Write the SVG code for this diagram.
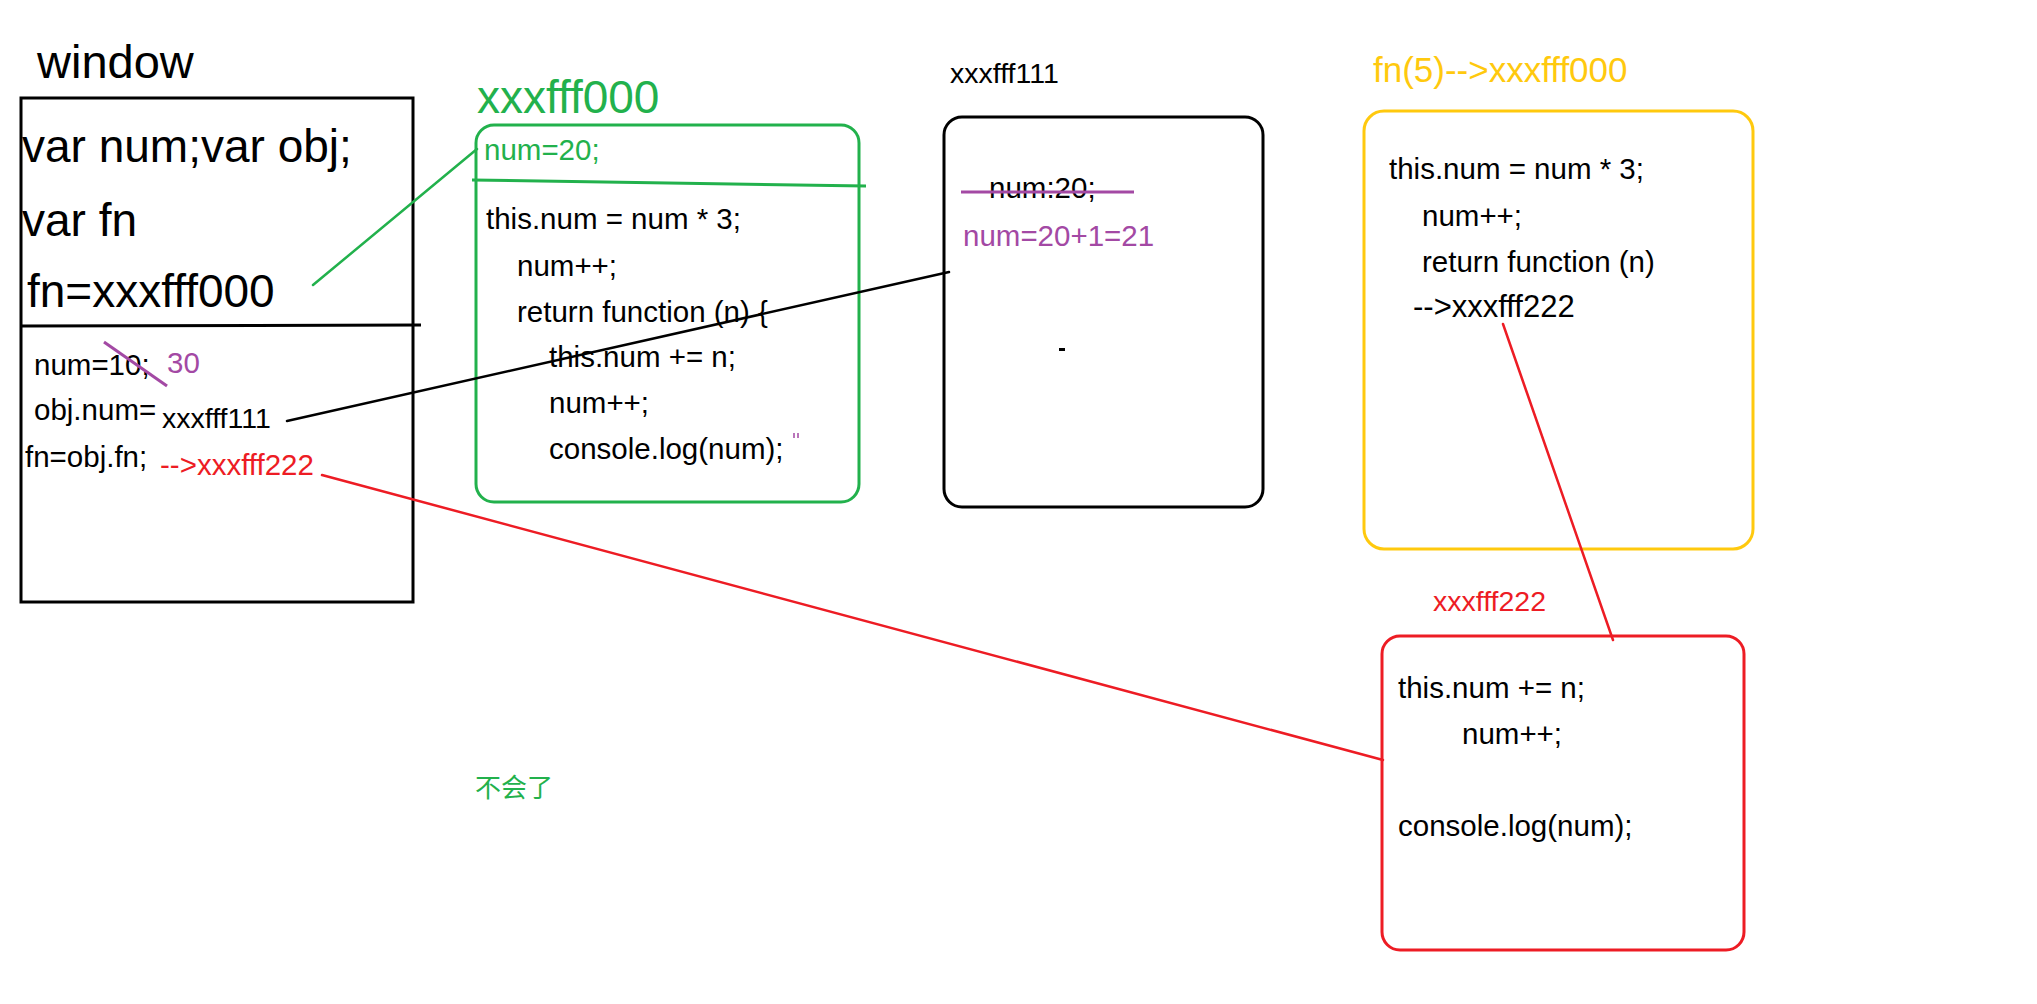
<svg xmlns="http://www.w3.org/2000/svg" width="2037" height="1004" viewBox="0 0 2037 1004">
<style>
  text { font-family: "Liberation Sans", Arial, sans-serif; fill: #000; }
  .big { font-size: 46px; }
  .code { font-size: 29.5px; }
  .addr { font-size: 28.5px; }
  .green { fill: #22b14c; }
  .purple { fill: #a349a4; }
  .red { fill: #ed1c24; }
  .yellow { fill: #ffc90e; }
  .box { fill: none; stroke-width: 3; }
  .conn { fill: none; stroke-width: 2.5; stroke-linecap: round; }
  .strike { stroke: #a349a4; stroke-width: 3; fill: none; }
</style>
<rect width="2037" height="1004" fill="#ffffff"/>

<g id="window">
  <text x="37" y="78" style="font-size:47px">window</text>
  <rect class="box" x="21" y="98" width="392" height="504" stroke="#000"/>
  <text class="big" x="22" y="162">var num;var obj;</text>
  <text class="big" x="22" y="236">var fn</text>
  <text class="big" x="27" y="307">fn=xxxfff000</text>
  <line x1="21" y1="326" x2="421" y2="325" stroke="#000" stroke-width="3"/>
  <text class="code" x="34" y="375">num=10;</text>
  <line class="strike" x1="104" y1="342" x2="167" y2="386"/>
  <text class="code purple" x="167" y="373">30</text>
  <text class="code" x="34" y="420">obj.num=</text>
  <text class="addr" x="162" y="428">xxxfff111</text>
  <text class="code" x="25" y="467">fn=obj.fn;</text>
  <text class="code red" x="160" y="475">--&gt;xxxfff222</text>
</g>

<g id="fn000">
  <text class="big green" x="477" y="113">xxxfff000</text>
  <rect class="box" x="476" y="125" width="383" height="377" rx="18" stroke="#22b14c"/>
  <text class="code green" x="484" y="160">num=20;</text>
  <line x1="472" y1="180" x2="866" y2="186" stroke="#22b14c" stroke-width="3"/>
  <text class="code" x="486" y="229">this.num = num * 3;</text>
  <text class="code" x="517" y="276">num++;</text>
  <text class="code" x="517" y="322">return function (n) {</text>
  <text class="code" x="549" y="367">this.num += n;</text>
  <text class="code" x="549" y="413">num++;</text>
  <text class="code" x="549" y="459">console.log(num);</text>
  <line x1="794" y1="433" x2="794" y2="438" stroke="#a349a4" stroke-width="1.5"/>
  <line x1="798" y1="433" x2="798" y2="438" stroke="#a349a4" stroke-width="1.5"/>
</g>

<g id="obj111">
  <text class="addr" x="950" y="83">xxxfff111</text>
  <rect class="box" x="944" y="117" width="319" height="390" rx="18" stroke="#000"/>
  <text class="code" x="989" y="198">num:20;</text>
  <line class="strike" x1="961" y1="192" x2="1134" y2="192"/>
  <text class="code purple" x="963" y="246">num=20+1=21</text>
  <rect x="1059" y="348" width="6" height="3" fill="#000"/>
</g>

<g id="call5">
  <text class="yellow" x="1373" y="82" style="font-size:35px">fn(5)--&gt;xxxfff000</text>
  <rect class="box" x="1364" y="111" width="389" height="438" rx="20" stroke="#ffc90e"/>
  <text class="code" x="1389" y="179">this.num = num * 3;</text>
  <text class="code" x="1422" y="226">num++;</text>
  <text class="code" x="1422" y="272">return function (n)</text>
  <text class="code" x="1413" y="317" style="font-size:31px">--&gt;xxxfff222</text>
</g>

<g id="fn222">
  <text class="addr red" x="1433" y="611">xxxfff222</text>
  <rect class="box" x="1382" y="636" width="362" height="314" rx="18" stroke="#ed1c24"/>
  <text class="code" x="1398" y="698">this.num += n;</text>
  <text class="code" x="1462" y="744">num++;</text>
  <text class="code" x="1398" y="836">console.log(num);</text>
</g>

<g id="note">
  <text x="475" y="797" class="green" style="font-family:'Noto Sans CJK SC','Liberation Sans',sans-serif;font-size:26px">不会了</text>
</g>

<g id="connectors">
  <line class="conn" x1="313" y1="285" x2="477" y2="149" stroke="#22b14c"/>
  <line class="conn" x1="287" y1="421" x2="949" y2="272" stroke="#000"/>
  <line class="conn" x1="322" y1="475" x2="1383" y2="760" stroke="#ed1c24"/>
  <line class="conn" x1="1503" y1="324" x2="1613" y2="640" stroke="#ed1c24"/>
</g>
</svg>
